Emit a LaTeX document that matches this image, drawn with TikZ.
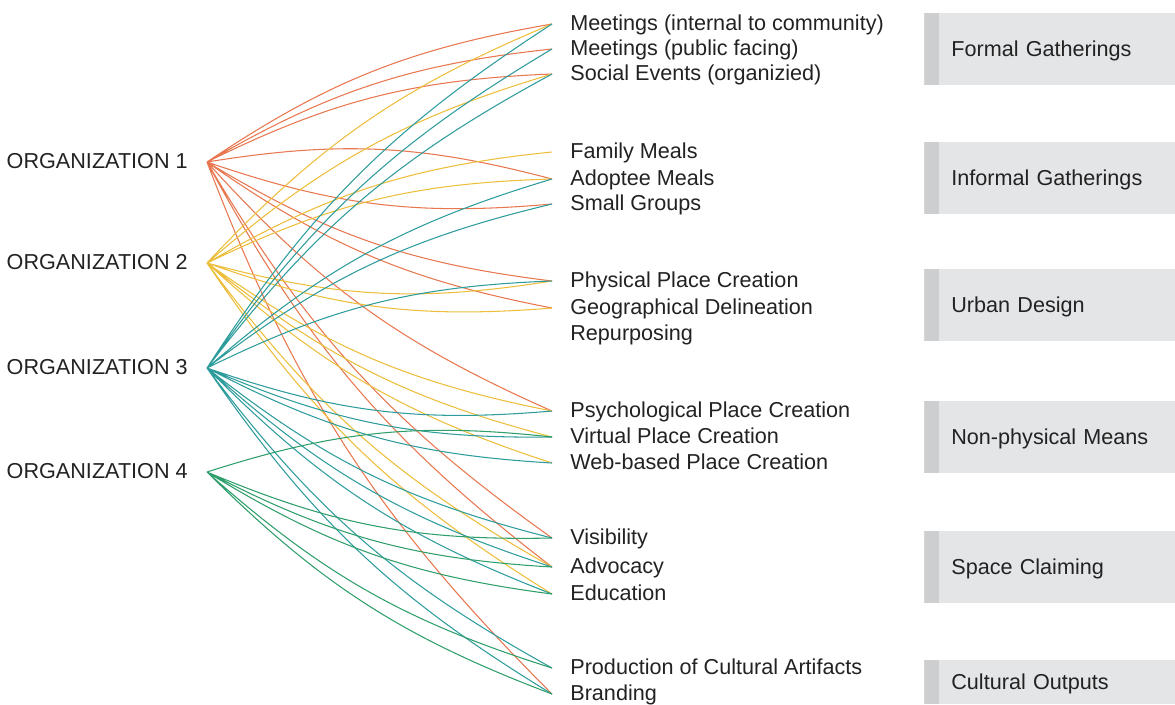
\documentclass[tikz,border=0pt]{standalone}
\usepackage{fontspec}
\setmainfont{Liberation Sans}
\usepackage{xcolor}
\definecolor{DarkText}{HTML}{222222}
\definecolor{LineOrange}{HTML}{E8774F}
\definecolor{LineYellow}{HTML}{EDBE3C}
\definecolor{LineTeal}{HTML}{2E9C9C}
\definecolor{LineGreen}{HTML}{2E9E6A}
\definecolor{BoxGrey}{HTML}{E4E5E7}
\definecolor{StripGrey}{HTML}{CDCED0}
\usepackage{tikz}
\usetikzlibrary{positioning}
\newcommand\Px{0.02cm}
\newcommand\OrgX{207}
\newcommand\ItemX{552}
\newcommand\BoxX{924}
\tikzstyle{org}=[anchor=east,inner xsep=0.38cm,inner ysep=0pt,text=DarkText,
                 text height=0.72em,text depth=0pt]
\tikzstyle{item}=[anchor=west,inner xsep=0.36cm,inner ysep=0pt,text=DarkText,
                  text height=0.72em,text depth=0pt]
\tikzstyle{catbox}=[anchor=north west,fill=BoxGrey,minimum width=5.02cm,minimum height=1.44cm,
                    inner xsep=0.54cm,text width=4.4cm,align=left,text=DarkText,
                    text height=0.8em,text depth=0pt,
                    path picture={\fill[StripGrey] (path picture bounding box.north west)
                      rectangle ([xshift=0.3cm]path picture bounding box.south west);}]
\tikzstyle{link}=[line width=0.6pt]
\tikzstyle{rise}=[bend left=12]
\tikzstyle{fall}=[bend right=12]

\begin{document}
\begin{tikzpicture}[x=\Px,y=-\Px,font=\fontsize{12.3}{14}\selectfont]
  \useasboundingbox (0,0) rectangle (1175,704);
  % category boxes
  \node[catbox] (formal) at (\BoxX,13) {Formal Gatherings};
  \node[catbox] (informal) at (\BoxX,142) {Informal Gatherings};
  \node[catbox] (urban) at (\BoxX,269) {Urban Design};
  \node[catbox] (nonphys) at (\BoxX,401) {Non-physical Means};
  \node[catbox] (claiming) at (\BoxX,531) {Space Claiming};
  \node[catbox,minimum height=0.88cm] (cultural) at (\BoxX,660) {Cultural Outputs};
  % organizations
  \node[org] (o1) at (\OrgX,162) {ORGANIZATION 1};
  \node[org] (o2) at (\OrgX,263) {ORGANIZATION 2};
  \node[org] (o3) at (\OrgX,368) {ORGANIZATION 3};
  \node[org] (o4) at (\OrgX,472) {ORGANIZATION 4};
  % practices
  \node[item] (mInt) at (\ItemX,24) {Meetings (internal to community)};
  \node[item] (mPub) at (\ItemX,49) {Meetings (public facing)};
  \node[item] (social) at (\ItemX,74) {Social Events (organizied)};
  \node[item] (family) at (\ItemX,152) {Family Meals};
  \node[item] (adoptee) at (\ItemX,179) {Adoptee Meals};
  \node[item] (small) at (\ItemX,204) {Small Groups};
  \node[item] (physical) at (\ItemX,281) {Physical Place Creation};
  \node[item] (geo) at (\ItemX,308) {Geographical Delineation};
  \node[item] (repurp) at (\ItemX,334) {Repurposing};
  \node[item] (psych) at (\ItemX,411) {Psychological Place Creation};
  \node[item] (virtual) at (\ItemX,437) {Virtual Place Creation};
  \node[item] (web) at (\ItemX,463) {Web-based Place Creation};
  \node[item] (visib) at (\ItemX,538) {Visibility};
  \node[item] (advoc) at (\ItemX,567) {Advocacy};
  \node[item] (educ) at (\ItemX,594) {Education};
  \node[item] (artif) at (\ItemX,668) {Production of Cultural Artifacts};
  \node[item] (brand) at (\ItemX,694) {Branding};
  % links
  \draw[link,LineOrange] (o1.east) to[rise] (mInt.west) (o1.east) to[rise] (mPub.west)
    (o1.east) to[rise] (social.west) (o1.east) to[rise] (adoptee.west)
    (o1.east) to[fall] (small.west) (o1.east) to[fall] (physical.west)
    (o1.east) to[fall] (geo.west) (o1.east) to[fall] (psych.west)
    (o1.east) to[fall] (visib.west) (o1.east) to[fall] (advoc.west)
    (o1.east) to[fall] (brand.west);
  \draw[link,LineYellow] (o2.east) to[rise] (mInt.west) (o2.east) to[rise] (social.west)
    (o2.east) to[rise] (family.west) (o2.east) to[rise] (adoptee.west)
    (o2.east) to[fall] (physical.west) (o2.east) to[fall] (geo.west)
    (o2.east) to[fall] (psych.west) (o2.east) to[fall] (virtual.west)
    (o2.east) to[fall] (web.west) (o2.east) to[fall] (advoc.west)
    (o2.east) to[fall] (educ.west);
  \draw[link,LineTeal] (o3.east) to[rise] (mInt.west) (o3.east) to[rise] (mPub.west)
    (o3.east) to[rise] (social.west) (o3.east) to[rise] (adoptee.west)
    (o3.east) to[rise] (small.west) (o3.east) to[rise] (physical.west)
    (o3.east) to[fall] (psych.west) (o3.east) to[fall] (virtual.west)
    (o3.east) to[fall] (web.west) (o3.east) to[fall] (visib.west)
    (o3.east) to[fall] (advoc.west) (o3.east) to[fall] (educ.west)
    (o3.east) to[fall] (artif.west) (o3.east) to[fall] (brand.west);
  \draw[link,LineGreen] (o4.east) to[rise] (virtual.west) (o4.east) to[fall] (visib.west)
    (o4.east) to[fall] (advoc.west) (o4.east) to[fall] (educ.west)
    (o4.east) to[fall] (artif.west) (o4.east) to[fall] (brand.west);
\end{tikzpicture}
\end{document}
